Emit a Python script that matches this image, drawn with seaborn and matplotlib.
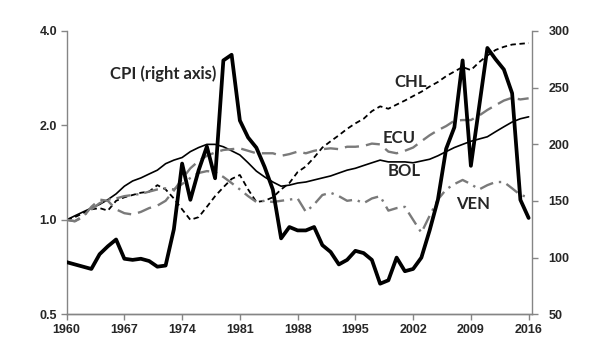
import numpy as np
import pandas as pd
import matplotlib
matplotlib.use("Agg")
import matplotlib.pyplot as plt
from matplotlib.ticker import FixedLocator, FixedFormatter
import seaborn as sns

years = np.arange(1960, 2017)

# relative income levels (left axis, log scale)
bol = [1.00, 1.03, 1.06, 1.09, 1.12, 1.16, 1.21, 1.28, 1.33, 1.36,
       1.40, 1.44, 1.51, 1.55, 1.58, 1.65, 1.70, 1.74, 1.74, 1.71,
       1.66, 1.61, 1.52, 1.43, 1.37, 1.32, 1.28, 1.29, 1.31, 1.32,
       1.34, 1.36, 1.38, 1.41, 1.44, 1.46, 1.49, 1.52, 1.55, 1.53,
       1.53, 1.53, 1.52, 1.54, 1.56, 1.60, 1.65, 1.70, 1.74, 1.78,
       1.81, 1.84, 1.91, 1.98, 2.05, 2.10, 2.13]
chl = [1.00, 1.02, 1.05, 1.08, 1.09, 1.07, 1.15, 1.18, 1.20, 1.22,
       1.23, 1.29, 1.25, 1.17, 1.08, 1.00, 1.02, 1.10, 1.19, 1.27,
       1.35, 1.39, 1.25, 1.14, 1.15, 1.18, 1.25, 1.31, 1.42, 1.48,
       1.58, 1.70, 1.78, 1.86, 1.95, 2.03, 2.10, 2.22, 2.30, 2.26,
       2.33, 2.40, 2.48, 2.56, 2.66, 2.75, 2.87, 2.97, 3.07, 3.00,
       3.18, 3.34, 3.48, 3.56, 3.62, 3.64, 3.66]
ecu = [1.00, 0.99, 1.02, 1.10, 1.16, 1.15, 1.08, 1.05, 1.04, 1.06,
       1.09, 1.11, 1.15, 1.24, 1.35, 1.46, 1.54, 1.60, 1.64, 1.67,
       1.68, 1.69, 1.66, 1.63, 1.63, 1.63, 1.60, 1.62, 1.65, 1.63,
       1.66, 1.68, 1.69, 1.68, 1.71, 1.71, 1.72, 1.75, 1.74, 1.65,
       1.63, 1.66, 1.70, 1.78, 1.86, 1.93, 1.99, 2.07, 2.08, 2.08,
       2.15, 2.24, 2.32, 2.40, 2.45, 2.42, 2.44]
ven = [1.00, 0.99, 1.03, 1.08, 1.13, 1.16, 1.17, 1.19, 1.20, 1.21,
       1.23, 1.25, 1.26, 1.25, 1.30, 1.36, 1.41, 1.43, 1.42, 1.37,
       1.31, 1.25, 1.19, 1.14, 1.15, 1.14, 1.15, 1.16, 1.17, 1.06,
       1.12, 1.20, 1.22, 1.19, 1.15, 1.16, 1.13, 1.17, 1.19, 1.07,
       1.09, 1.10, 1.00, 0.91, 1.03, 1.16, 1.25, 1.30, 1.34, 1.30,
       1.25, 1.29, 1.32, 1.32, 1.26, 1.20, 1.18]
# commodity price index (right axis)
cpi = [96, 94, 92, 90, 103, 110, 116, 99, 98, 99,
       97, 92, 93, 125, 183, 151, 177, 198, 170, 274,
       279, 221, 206, 197, 180, 160, 117, 127, 124, 124,
       127, 111, 105, 94, 98, 106, 104, 98, 77, 80,
       100, 88, 90, 100, 124, 151, 196, 215, 274, 181,
       233, 285, 275, 266, 245, 151, 135]

df = pd.DataFrame({'year': years, 'BOL': bol, 'CHL': chl, 'ECU': ecu,
                   'VEN': ven, 'CPI': cpi})

sns.set_style("white")
plt.rcParams['font.family'] = ['Liberation Sans', 'DejaVu Sans']

fig, ax = plt.subplots(figsize=(6, 3.6), dpi=100)
fig.subplots_adjust(left=0.111, right=0.886, bottom=0.127, top=0.914)

grey = '#7a7a7a'
sns.lineplot(data=df, x='year', y='BOL', ax=ax, color='black', lw=1.2)
sns.lineplot(data=df, x='year', y='CHL', ax=ax, color='black', lw=1.3,
             linestyle=(0, (3, 2)))
sns.lineplot(data=df, x='year', y='ECU', ax=ax, color=grey, lw=1.7,
             linestyle=(0, (6, 3)))
sns.lineplot(data=df, x='year', y='VEN', ax=ax, color=grey, lw=1.7,
             linestyle=(0, (6, 2.5, 1, 2.5)))

ax2 = ax.twinx()
sns.lineplot(data=df, x='year', y='CPI', ax=ax2, color='black', lw=2.7)

ax.set_yscale('log')
ax.set_ylim(0.5, 4.0)
ax.yaxis.set_major_locator(FixedLocator([0.5, 1.0, 2.0, 4.0]))
ax.yaxis.set_major_formatter(FixedFormatter(['0.5', '1.0', '2.0', '4.0']))
ax.yaxis.set_minor_locator(FixedLocator([]))
ax.set_xlim(1960, 2016.36)
ax.set_xticks(list(range(1960, 2017, 7)))
ax2.set_ylim(50, 300)
ax2.set_yticks([50, 100, 150, 200, 250, 300])

for a in (ax, ax2):
    a.set_xlabel('')
    a.set_ylabel('')
    a.spines['top'].set_visible(False)
    for s in ('left', 'right', 'bottom'):
        a.spines[s].set_color('#858585')
        a.spines[s].set_linewidth(1.0)
    a.tick_params(axis='both', which='major', length=4, width=1.0,
                  color='#858585', labelsize=9, pad=2)
    for lab in a.get_xticklabels() + a.get_yticklabels():
        lab.set_fontweight('bold')
ax.spines['right'].set_visible(False)
ax2.spines['left'].set_visible(False)
ax.tick_params(axis='both', direction='out', left=True, bottom=True)
ax2.tick_params(axis='y', direction='out', right=True, pad=8)
ax.tick_params(axis='y', pad=3)
ax.tick_params(axis='x', pad=3)

lab_font = dict(family=['Lato', 'DejaVu Sans'], fontweight='bold',
                fontsize=12, ha='center', va='center')
ax.text(1971.7, 2.92, 'CPI (right axis)', **lab_font)
ax.text(2001.7, 2.75, 'CHL', **lab_font)
ax.text(2000.3, 1.83, 'ECU', **lab_font)
ax.text(2000.9, 1.43, 'BOL', **lab_font)
ax.text(2009.25, 1.12, 'VEN', **lab_font)

plt.savefig('out.png', dpi=100)
